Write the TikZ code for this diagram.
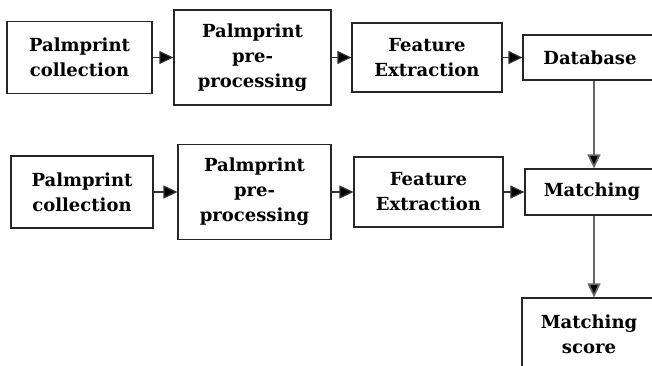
\documentclass[tikz,border=0pt]{standalone}
\usepackage{fontspec}
\setmainfont{DejaVu Serif}
\usetikzlibrary{arrows.meta}

\tikzset{
  stagebox/.style={draw=black!85, line width=1.2pt, align=center, inner sep=0pt,
    font=\bfseries\fontsize{18}{25}\selectfont},
  flow/.style={-{Triangle[length=14pt,width=13pt,fill=black]}, line width=1.2pt, draw=black!80},
  downflow/.style={-{Triangle[length=14pt,width=13pt,fill=black]}, line width=1.7pt, draw=black!60}
}

\begin{document}
\begin{tikzpicture}[x=1pt,y=-1pt]
  \useasboundingbox (0,0) rectangle (652,365);
  \clip (0,0) rectangle (652,365);

  % Top row: enrolment
  \node[stagebox, minimum width=145pt, minimum height=72pt] (col1) at (79.5,57.5)
    {Palmprint\\collection};
  \node[stagebox, minimum width=157pt, minimum height=95pt] (pre1) at (252.5,57.5)
    {Palmprint\\pre-\\processing};
  \node[stagebox, minimum width=150pt, minimum height=69pt] (feat1) at (427,57.5)
    {Feature\\Extraction};
  \node[stagebox, minimum width=134pt, minimum height=45pt] (db) at (590,57.5)
    {Database};

  % Bottom row: query
  \node[stagebox, minimum width=142pt, minimum height=72pt] (col2) at (82,192)
    {Palmprint\\collection};
  \node[stagebox, minimum width=153pt, minimum height=95pt] (pre2) at (254.5,192)
    {Palmprint\\pre-\\processing};
  \node[stagebox, minimum width=149pt, minimum height=70pt] (feat2) at (428.5,192)
    {Feature\\Extraction};
  \node[stagebox, minimum width=134pt, minimum height=46pt] (match) at (592,192)
    {Matching};

  % Result
  \node[stagebox, minimum width=134pt, minimum height=72pt] (score) at (589,334)
    {Matching\\score};

  % Flow arrows
  \draw[flow] (col1.east) -- (pre1.west);
  \draw[flow] (pre1.east) -- (feat1.west);
  \draw[flow] (feat1.east) -- (db.west);
  \draw[flow] (col2.east) -- (pre2.west);
  \draw[flow] (pre2.east) -- (feat2.west);
  \draw[flow] (feat2.east) -- (match.west);
  \draw[downflow] (db.south -| 594,0) -- (match.north -| 594,0);
  \draw[downflow] (match.south -| 594,0) -- (score.north -| 594,0);
\end{tikzpicture}
\end{document}
